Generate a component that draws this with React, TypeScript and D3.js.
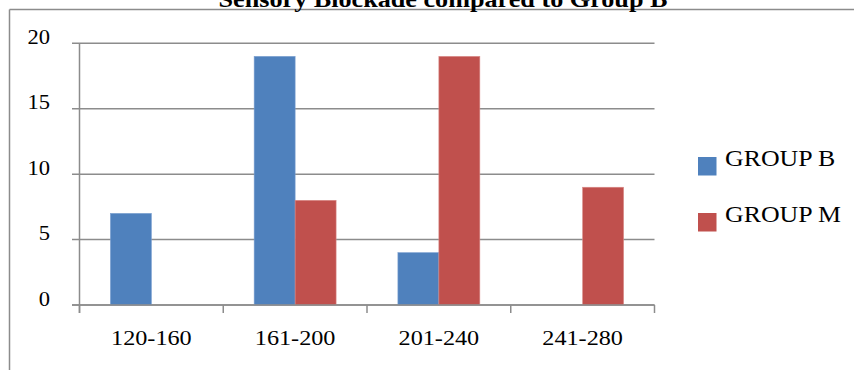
import React from "react";
import * as d3 from "d3";

// Duration bands (minutes) and patient counts per group
const categories = ["120-160", "161-200", "201-240", "241-280"];
const seriesNames = ["GROUP B", "GROUP M"];
const groupB = [7, 19, 4, 0];
const groupM = [0, 8, 19, 9];
const yTicks = [0, 5, 10, 15, 20];
const title = "Sensory Blockade compared to Group B";

const colors = ["#4F81BD", "#C0504D"];
const W = 854;
const H = 370;
const FONT = "'Liberation Serif', 'Times New Roman', serif";
const SX = 1.1; // horizontal stretch of the serif face

export default function App() {
  const x0 = d3.scaleBand<string>().domain(categories).range([79.5, 654.5]).paddingInner(0.43).paddingOuter(0.215);
  const x1 = d3.scaleBand<string>().domain(seriesNames).range([0, x0.bandwidth()]);
  const y = d3.scaleLinear().domain([0, 20]).range([305, 43.3]);
  const values = [groupB, groupM];
  const step = x0.step();
  const axisLeft = 79.5;
  const tickEdges = d3.range(categories.length + 1).map((i) => axisLeft + i * step);

  return (
    <svg width={W} height={H} style={{ position: "absolute", left: 0, top: 0, background: "#fff" }}>
      <rect width={W} height={H} fill="#fff" />
      {/* outer frame */}
      <line x1={9.5} y1={9.5} x2={W} y2={9.5} stroke="#8c8c8c" strokeWidth={1.5} />
      <line x1={9.5} y1={9.5} x2={9.5} y2={H} stroke="#8c8c8c" strokeWidth={1.5} />
      {/* title */}
      <text
        transform={`translate(${443},${7}) scale(${SX},1)`}
        textAnchor="middle"
        fontFamily={FONT}
        fontWeight="bold"
        fontSize={23.8}
        fill="#000"
      >
        {title}
      </text>
      {/* gridlines and y ticks */}
      {yTicks.map((t) => (
        <line key={"g" + t} x1={72} x2={654.5} y1={y(t)} y2={y(t)} stroke="#8c8c8c" strokeWidth={1.5} />
      ))}
      {yTicks.map((t) => (
        <text
          key={"l" + t}
          transform={`translate(${50},${y(t) + 0.5}) scale(${SX},1)`}
          textAnchor="end"
          fontFamily={FONT}
          fontSize={20.5}
          fill="#000"
        >
          {t}
        </text>
      ))}
      {/* y axis line */}
      <line x1={axisLeft} x2={axisLeft} y1={y(20)} y2={313} stroke="#8c8c8c" strokeWidth={1.5} />
      {/* x ticks */}
      {tickEdges.map((tx, i) => (
        <line key={"xt" + i} x1={tx} x2={tx} y1={305} y2={313} stroke="#8c8c8c" strokeWidth={1.5} />
      ))}
      {/* bars */}
      {categories.map((c, ci) => (
        <g key={c} transform={`translate(${x0(c)},0)`}>
          {seriesNames.map((s, si) => {
            const v = values[si][ci];
            if (!v) return null;
            return (
              <rect
                key={s}
                x={x1(s)}
                y={y(v)}
                width={x1.bandwidth()}
                height={y(0) - y(v)}
                fill={colors[si]}
                stroke={si === 0 ? "#7a9fd0" : "#d98a88"}
                strokeWidth={0.6}
              />
            );
          })}
        </g>
      ))}
      {/* baseline drawn over bars */}
      <line x1={72} x2={654.5} y1={y(0)} y2={y(0)} stroke="#8c8c8c" strokeWidth={1.5} />
      {/* x labels */}
      {categories.map((c) => (
        <text
          key={"xl" + c}
          transform={`translate(${(x0(c) as number) + x0.bandwidth() / 2},${345}) scale(${SX},1)`}
          textAnchor="middle"
          fontFamily={FONT}
          fontSize={22}
          fill="#000"
        >
          {c}
        </text>
      ))}
      {/* legend */}
      {seriesNames.map((s, i) => (
        <g key={"lg" + s} transform={`translate(698,${157 + i * 56})`}>
          <rect x={0} y={0} width={18.5} height={18.5} fill={colors[i]} />
          <text
            transform={`translate(27,${8.7}) scale(${SX},1)`}
            fontFamily={FONT}
            fontSize={23.5}
            fill="#000"
          >
            {s}
          </text>
        </g>
      ))}
    </svg>
  );
}
